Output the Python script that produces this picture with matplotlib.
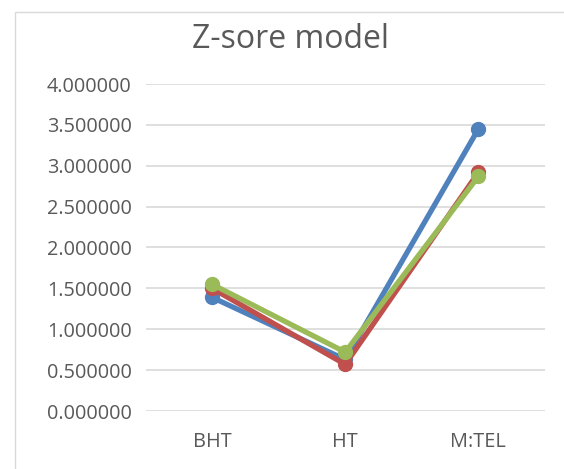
import matplotlib
matplotlib.use("Agg")
import matplotlib.pyplot as plt
from matplotlib.patches import Rectangle

categories = ["BHT", "HT", "M:TEL"]
series_blue = [1.39, 0.63, 3.45]
series_red = [1.50, 0.57, 2.92]
series_green = [1.55, 0.72, 2.87]
yticks = [0.0, 0.5, 1.0, 1.5, 2.0, 2.5, 3.0, 3.5, 4.0]
title = "Z-sore model"

plt.rcParams['font.family'] = ['Open Sans', 'DejaVu Sans']

W, H = 564, 469
fig = plt.figure(figsize=(W/100, H/100), dpi=100)
fig.patches.append(Rectangle((15/W, -0.2), 1.2, 1.2 - 12/H, transform=fig.transFigure,
                             fill=False, edgecolor='#d9d9d9', linewidth=1))
ax = fig.add_axes([145.5/W, 1 - 411/H, (545 - 145.5)/W, (411 - 84)/H])

x = list(range(len(categories)))
for vals, c in [(series_blue, '#4F81BD'), (series_red, '#C0504D'), (series_green, '#9BBB59')]:
    ax.plot(x, vals, color=c, linewidth=3.8, marker='o', markersize=10, solid_capstyle='round', zorder=3)

ax.set_xlim(-0.5, 2.5)
ax.set_ylim(0, 4.0)
ax.set_yticks(yticks)
ax.set_yticklabels([f"{v:.6f}" for v in yticks], fontsize=14.3, color='#595959')
ax.set_xticks(x)
ax.set_xticklabels(categories, fontsize=14.3, color='#595959')
ax.tick_params(axis='y', length=0, pad=10)
ax.tick_params(axis='x', length=0, pad=15)
ax.grid(axis='y', color='#d9d9d9', linewidth=1.2)
ax.set_axisbelow(True)
for s in ax.spines.values():
    s.set_visible(False)
fig.text(291/W, 1 - 39/H, title, ha='center', va='center', fontsize=23, color='#595959')
fig.savefig("out.png", dpi=100)
